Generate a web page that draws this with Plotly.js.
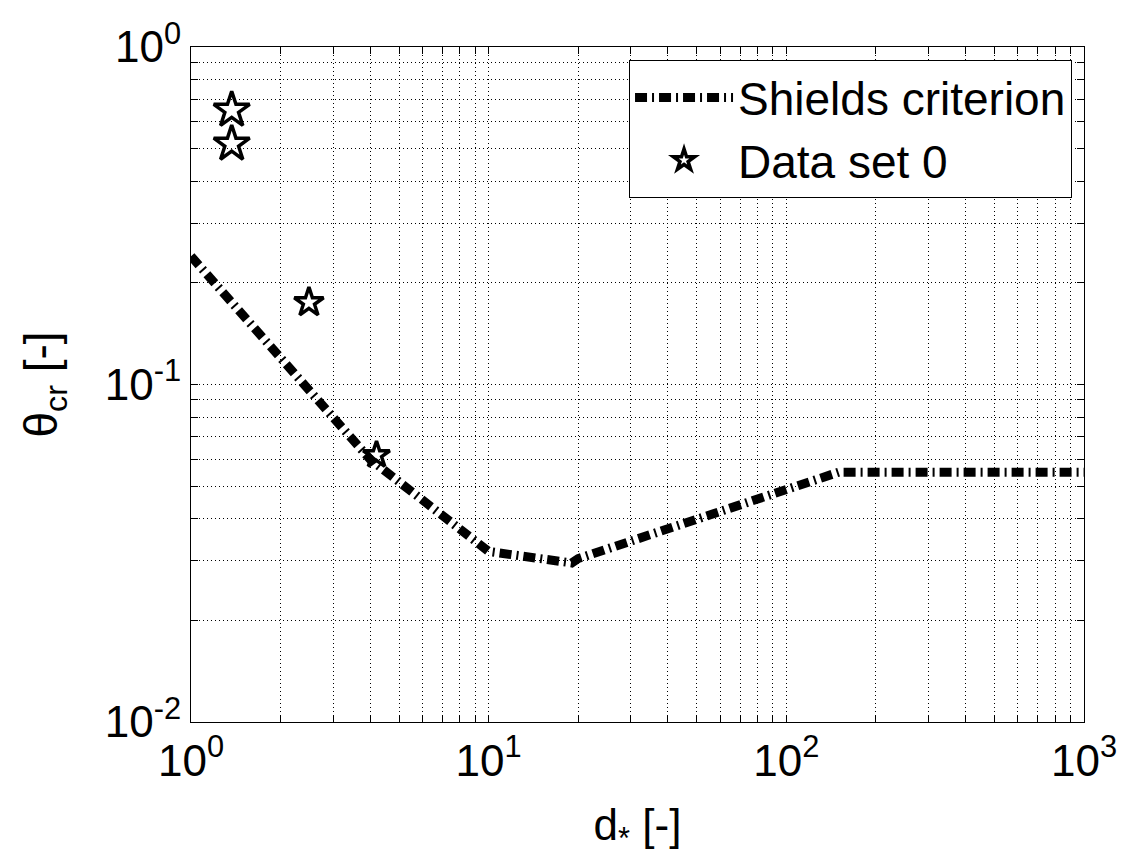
<!DOCTYPE html>
<html>
<head>
<meta charset="utf-8">
<script src="https://cdn.plot.ly/plotly-3.0.1.min.js"></script>
<style>html,body{margin:0;padding:0;background:#fff;}#chart{width:1122px;height:861px;}</style>
</head>
<body>
<div id="chart"></div>
<script>
// Shields criterion breakpoints
var shieldsX = [1, 4, 10, 19, 20, 150, 1000];
var shieldsY = [0.24, 0.06, 0.032, 0.0296, 0.0305, 0.055, 0.055];
// Data set 0 (stars)
var dataX = [1.37, 1.37, 2.49, 4.2];
var dataY = [0.65, 0.516, 0.175, 0.0618];
var dataSize = [27, 27, 22, 20];
// Axis ticks
var xMajor = [1, 10, 100, 1000];
var xMajorText = ['10<sup>0</sup>', '10<sup>1</sup>', '10<sup>2</sup>', '10<sup>3</sup>'];
var yMajor = [0.01, 0.1, 1];
var yMajorText = ['10<sup>-2</sup>', '10<sup>-1</sup>', '10<sup>0</sup>'];

function logTicks(majors, labels) {
  var vals = [], text = [];
  for (var i = 0; i < majors.length; i++) {
    vals.push(majors[i]); text.push(labels[i]);
    if (i < majors.length - 1) {
      for (var m = 2; m <= 9; m++) { vals.push(majors[i] * m); text.push(''); }
    }
  }
  return {vals: vals, text: text};
}
var xt = logTicks(xMajor, xMajorText);
var yt = logTicks(yMajor, yMajorText);
var FONT = '"Liberation Sans", Arial, Helvetica, sans-serif';

var traces = [
  {
    x: shieldsX, y: shieldsY, type: 'scatter', mode: 'lines', name: 'Shields criterion',
    line: {color: '#000', width: 9, dash: '12px,5px,2px,5px'}
  },
  {
    x: dataX, y: dataY, type: 'scatter', mode: 'markers', name: 'Data set 0',
    marker: {symbol: 'star-open', size: dataSize, color: '#000', opacity: 1, line: {color: '#000', width: 3.5}}
  }
];

var axisCommon = {
  type: 'log', showline: true, linecolor: '#000', linewidth: 1, mirror: 'ticks',
  ticks: 'inside', ticklen: 7, tickcolor: '#000', tickwidth: 1,
  showgrid: true, gridcolor: '#000', gridwidth: 1, griddash: '1px,3px',
  zeroline: false, tickmode: 'array',
  tickfont: {family: FONT, size: 44, color: '#000'}
};

var layout = {
  width: 1122, height: 861,
  margin: {l: 191, r: 38, t: 47, b: 139, pad: 0},
  paper_bgcolor: '#fff', plot_bgcolor: '#fff',
  font: {family: FONT, color: '#000'},
  showlegend: true,
  legend: {
    x: 0.9866, y: 0.9807, xanchor: 'right', yanchor: 'top',
    bgcolor: '#fff', bordercolor: '#000', borderwidth: 1,
    font: {family: FONT, size: 46, color: '#000'},
    itemwidth: 98, tracegroupgap: 0
  },
  xaxis: Object.assign({}, axisCommon, {
    range: [0, 3], tickvals: xt.vals, ticktext: xt.text,
    title: {text: 'd<sub>*</sub> [-]', font: {family: FONT, size: 44, color: '#000'}, standoff: 25}
  }),
  yaxis: Object.assign({}, axisCommon, {
    range: [-2, 0], tickvals: yt.vals, ticktext: yt.text,
    title: {text: 'θ<sub>cr</sub> [-]', font: {family: FONT, size: 46, color: '#000'}, standoff: 32}
  })
};

Plotly.newPlot('chart', traces, layout, {displayModeBar: false, staticPlot: true});
</script>
</body>
</html>
